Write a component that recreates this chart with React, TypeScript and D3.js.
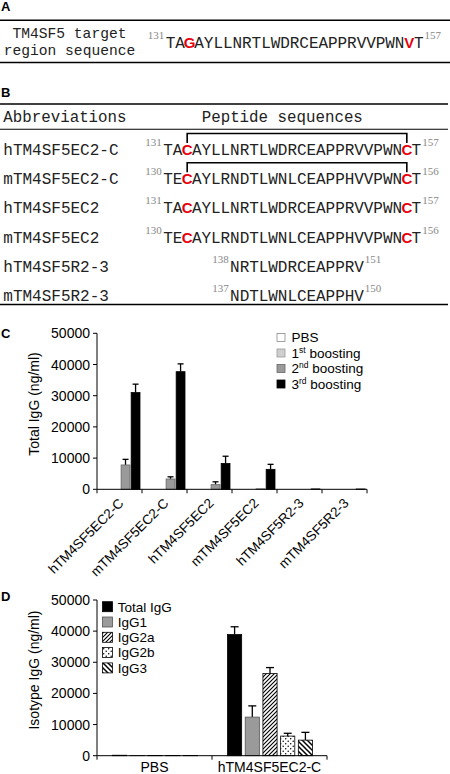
import React from 'react';
import * as d3 from 'd3';

// ---------- Panel A data ----------
const seqA = "TAGAYLLNRTLWDRCEAPPRVVPWNVT";
const seqAStart = 131;
const seqAEnd = 157;
const seqARed = [2, 25];

// ---------- Panel B data ----------
const peptideNames = ["hTM4SF5EC2-C", "mTM4SF5EC2-C", "hTM4SF5EC2", "mTM4SF5EC2", "hTM4SF5R2-3", "mTM4SF5R2-3"];
const peptideSeqs = [
  "TACAYLLNRTLWDRCEAPPRVVPWNCT",
  "TECAYLRNDTLWNLCEAPPHVVPWNCT",
  "TACAYLLNRTLWDRCEAPPRVVPWNCT",
  "TECAYLRNDTLWNLCEAPPHVVPWNCT",
  "NRTLWDRCEAPPRV",
  "NDTLWNLCEAPPHV",
];
const peptideStart = [131, 130, 131, 130, 138, 137];
const peptideEnd = [157, 156, 157, 156, 151, 150];
const peptideCol = [0, 0, 0, 0, 7, 7];
const peptideRed = [[2, 25], [2, 25], [2, 25], [2, 25], [], []];
const peptideBracket = [true, true, false, false, false, false];

// ---------- Panel C data ----------
const boostCategories = ["hTM4SF5EC2-C", "mTM4SF5EC2-C", "hTM4SF5EC2", "mTM4SF5EC2", "hTM4SF5R2-3", "mTM4SF5R2-3"];
const boostSeries = ["PBS", "1st boosting", "2nd boosting", "3rd boosting"];
const boostPBS = [0, 0, 0, 0, 0, 0];
const boost1st = [0, 0, 0, 0, 0, 0];
const boost2nd = [7800, 3300, 1500, 150, 0, 0];
const boost3rd = [31000, 37700, 8300, 6400, 120, 100];
const err2nd = [1800, 700, 900, 0, 0, 0];
const err3rd = [2700, 2500, 2300, 1600, 0, 0];
const boostLegendNum = ["PBS", "1", "2", "3"];
const boostLegendSup = ["", "st", "nd", "rd"];

// ---------- Panel D data ----------
const isoGroups = ["PBS", "hTM4SF5EC2-C"];
const isoSeries = ["Total IgG", "IgG1", "IgG2a", "IgG2b", "IgG3"];
const isoPBS = [150, 100, 100, 100, 100];
const isoHTM = [38900, 12400, 26400, 6300, 5000];
const isoErrPBS = [0, 0, 0, 0, 0];
const isoErrHTM = [2500, 3600, 1900, 900, 2500];

const yTicks = [0, 10000, 20000, 30000, 40000, 50000];

const mono = "'Liberation Mono', 'Courier New', monospace";
const sans = "'Liberation Sans', Arial, sans-serif";
const serif = "'Liberation Serif', 'Times New Roman', serif";
const red = "#e8000b";
const charW = 9.55;

function Seq({ seq, x0, baseline, redIdx, startNum, endNum }) {
  return (
    <g>
      <text x={x0 - 1.5} y={baseline - 9} textAnchor="end" fontFamily={serif} fontSize={11} fill="#888">{startNum}</text>
      {seq.split('').map((ch, i) =>
        redIdx.includes(i) ? (
          <text key={i} x={x0 + (i + 0.5) * charW} y={baseline} textAnchor="middle" fontFamily={sans} fontWeight="bold" fontSize={15} fill={red}>{ch}</text>
        ) : (
          <text key={i} x={x0 + (i + 0.5) * charW} y={baseline} textAnchor="middle" fontFamily={mono} fontSize={16} fill="#222">{ch}</text>
        )
      )}
      <text x={x0 + seq.length * charW + 1} y={baseline - 9} fontFamily={serif} fontSize={11} fill="#888">{endNum}</text>
    </g>
  );
}

function YAxis({ y, x, title, titleY }) {
  return (
    <g>
      <line x1={x} x2={x} y1={y.range()[0]} y2={y.range()[1]} stroke="#000" strokeWidth={1} />
      {yTicks.map(t => (
        <g key={t}>
          <line x1={x - 4} x2={x} y1={y(t)} y2={y(t)} stroke="#000" />
          <text x={x - 7} y={y(t)} dy="0.36em" textAnchor="end" fontFamily={sans} fontSize={14} fill="#000">{t}</text>
        </g>
      ))}
      <text transform={`translate(39,${titleY}) rotate(-90)`} textAnchor="middle" fontFamily={sans} fontSize={14} fill="#000">{title}</text>
    </g>
  );
}

export default function App() {
  // Panel C scales
  const yC = d3.scaleLinear().domain([0, 50000]).range([489.3, 333.3]);
  const x0C = d3.scaleBand().domain(boostCategories).range([97, 367]);
  const x1C = d3.scaleBand().domain(boostSeries).range([4, 43]).paddingInner(0.12);
  const boostValues = [boostPBS, boost1st, boost2nd, boost3rd];
  const boostErr = [boostPBS.map(() => 0), boost1st.map(() => 0), err2nd, err3rd];
  const boostFill = ["#ffffff", "#cfcfcf", "#9a9a9a", "#000000"];
  const boostStroke = ["#8a8a8a", "#9a9a9a", "#666666", "#000000"];
  const boundsC = [...boostCategories.map(c => x0C(c)), x0C.range()[1]];

  // Panel D scales
  const yD = d3.scaleLinear().domain([0, 50000]).range([755.7, 600]);
  const x0D = d3.scaleBand().domain(isoGroups).range([97, 327]);
  const x1D = d3.scaleBand().domain(isoSeries).range([15.5, 100.5]).paddingInner(0.2);
  const isoValues = [isoPBS, isoHTM];
  const isoErr = [isoErrPBS, isoErrHTM];
  const isoFill = ["#000000", "#9a9a9a", "url(#pUp)", "url(#pDots)", "url(#pDown)"];
  const isoStroke = ["#000000", "#555555", "#000000", "#000000", "#000000"];
  const boundsD = [...isoGroups.map(g => x0D(g)), x0D.range()[1]];

  const rowBase = (i) => 155 + i * 29.2;
  const seqX0 = 163.3;

  return (
    <svg width={450} height={774} style={{ position: 'absolute', left: 0, top: 0, background: '#fff' }}>
      <defs>
        <pattern id="pUp" patternUnits="userSpaceOnUse" width={4} height={4}>
          <rect width={4} height={4} fill="#fff" />
          <path d="M-1,1 l2,-2 M0,4 l4,-4 M3,5 l2,-2" stroke="#000" strokeWidth={1.1} />
        </pattern>
        <pattern id="pDots" patternUnits="userSpaceOnUse" width={5} height={5}>
          <rect width={5} height={5} fill="#fff" />
          <circle cx={1.2} cy={1.2} r={0.75} fill="#000" />
          <circle cx={3.7} cy={3.7} r={0.75} fill="#000" />
        </pattern>
        <pattern id="pDown" patternUnits="userSpaceOnUse" width={5} height={5}>
          <rect width={5} height={5} fill="#fff" />
          <path d="M-1,4 l2,2 M0,0 l5,5 M4,-1 l2,2" stroke="#000" strokeWidth={1.5} />
        </pattern>
      </defs>

      {/* ---------- Panel A ---------- */}
      <text x={1} y={10.5} fontFamily={sans} fontWeight="bold" fontSize={13} fill="#000">A</text>
      <line x1={0} x2={450} y1={20.3} y2={20.3} stroke="#000" strokeWidth={1.6} />
      <text x={69.5} y={37.5} textAnchor="middle" fontFamily={mono} fontSize={14.6} fill="#222">TM4SF5 target</text>
      <text x={69.5} y={55} textAnchor="middle" fontFamily={mono} fontSize={14.6} fill="#222">region sequence</text>
      <Seq seq={seqA} x0={165.7} baseline={48} redIdx={seqARed} startNum={seqAStart} endNum={seqAEnd} />
      <line x1={0} x2={450} y1={62.5} y2={62.5} stroke="#000" strokeWidth={1.6} />

      {/* ---------- Panel B ---------- */}
      <text x={1} y={96.7} fontFamily={sans} fontWeight="bold" fontSize={13} fill="#000">B</text>
      <line x1={0} x2={448} y1={104} y2={104} stroke="#000" strokeWidth={1.6} />
      <text x={3.3} y={121.7} fontFamily={mono} fontSize={15.8} fill="#222">Abbreviations</text>
      <text x={201.7} y={121.7} fontFamily={mono} fontSize={15.8} fill="#222">Peptide sequences</text>
      <line x1={0} x2={448} y1={129.2} y2={129.2} stroke="#000" strokeWidth={1.1} />
      {peptideNames.map((name, i) => {
        const b = rowBase(i);
        const x0 = seqX0 + peptideCol[i] * charW;
        const r = peptideRed[i];
        return (
          <g key={name + i}>
            <text x={3.3} y={b} fontFamily={mono} fontSize={16} fill="#222">{name}</text>
            <Seq seq={peptideSeqs[i]} x0={x0} baseline={b} redIdx={r} startNum={peptideStart[i]} endNum={peptideEnd[i]} />
            {peptideBracket[i] && (
              <path
                d={`M${x0 + (r[0] + 0.5) * charW},${b - 12} V${b - 21.5} H${x0 + (r[1] + 0.5) * charW} V${b - 12}`}
                fill="none" stroke="#000" strokeWidth={1.6}
              />
            )}
          </g>
        );
      })}
      <line x1={0} x2={448} y1={304.5} y2={304.5} stroke="#000" strokeWidth={1.6} />

      {/* ---------- Panel C ---------- */}
      <text x={1} y={337.5} fontFamily={sans} fontWeight="bold" fontSize={13} fill="#000">C</text>
      <YAxis y={yC} x={97} title="Total IgG (ng/ml)" titleY={404} />
      {boostCategories.map((cat, ci) => (
        <g key={cat} transform={`translate(${x0C(cat)},0)`}>
          {boostSeries.map((s, si) => {
            const v = boostValues[si][ci];
            const e = boostErr[si][ci];
            const bx = x1C(s);
            const bw = x1C.bandwidth();
            return (
              <g key={s}>
                {e > 0 && (
                  <g stroke="#000" strokeWidth={1.3}>
                    <line x1={bx + bw / 2} x2={bx + bw / 2} y1={yC(v)} y2={yC(v + e)} />
                    <line x1={bx + bw / 2 - 3} x2={bx + bw / 2 + 3} y1={yC(v + e)} y2={yC(v + e)} />
                  </g>
                )}
                {v > 0 && (
                  <rect x={bx} y={yC(v)} width={bw} height={yC(0) - yC(v)} fill={boostFill[si]} stroke={boostStroke[si]} strokeWidth={0.8} />
                )}
              </g>
            );
          })}
        </g>
      ))}
      <line x1={97} x2={x0C.range()[1]} y1={yC(0)} y2={yC(0)} stroke="#000" />
      {boundsC.map((bx, i) => (
        <line key={i} x1={bx} x2={bx} y1={yC(0)} y2={yC(0) + 4} stroke="#000" />
      ))}
      {boostCategories.map(cat => (
        <text key={cat} transform={`translate(${x0C(cat) + x0C.bandwidth() / 2 + 5},504) rotate(-45)`} textAnchor="end" fontFamily={sans} fontSize={13.5} fill="#000">{cat}</text>
      ))}
      {boostSeries.map((s, i) => {
        const cy = 337.5 + i * 15.5;
        return (
          <g key={s}>
            <rect x={277} y={cy - 4} width={8} height={8} fill={boostFill[i]} stroke={boostStroke[i]} strokeWidth={0.8} />
            <text x={291.5} y={cy} dy="0.36em" fontFamily={sans} fontSize={13.5} fill="#000">
              {boostLegendNum[i]}
              {boostLegendSup[i] && <tspan fontSize={8.5} dy="-5">{boostLegendSup[i]}</tspan>}
              {boostLegendSup[i] && <tspan dy="5"> boosting</tspan>}
            </text>
          </g>
        );
      })}

      {/* ---------- Panel D ---------- */}
      <text x={1} y={600.5} fontFamily={sans} fontWeight="bold" fontSize={13} fill="#000">D</text>
      <YAxis y={yD} x={97} title="Isotype IgG (ng/ml)" titleY={670} />
      {isoGroups.map((g, gi) => (
        <g key={g} transform={`translate(${x0D(g)},0)`}>
          {isoSeries.map((s, si) => {
            const v = isoValues[gi][si];
            const e = isoErr[gi][si];
            const bx = x1D(s);
            const bw = x1D.bandwidth();
            return (
              <g key={s}>
                {e > 0 && (
                  <g stroke="#000" strokeWidth={1.3}>
                    <line x1={bx + bw / 2} x2={bx + bw / 2} y1={yD(v)} y2={yD(v + e)} />
                    <line x1={bx + bw / 2 - 4} x2={bx + bw / 2 + 4} y1={yD(v + e)} y2={yD(v + e)} />
                  </g>
                )}
                <rect x={bx} y={yD(v)} width={bw} height={yD(0) - yD(v)} fill={isoFill[si]} stroke={isoStroke[si]} strokeWidth={0.8} />
              </g>
            );
          })}
        </g>
      ))}
      <line x1={97} x2={x0D.range()[1]} y1={yD(0)} y2={yD(0)} stroke="#000" />
      {boundsD.map((bx, i) => (
        <line key={i} x1={bx} x2={bx} y1={yD(0)} y2={yD(0) + 4} stroke="#000" />
      ))}
      {isoGroups.map(g => (
        <text key={g} x={x0D(g) + x0D.bandwidth() / 2} y={772} textAnchor="middle" fontFamily={sans} fontSize={14} fill="#000">{g}</text>
      ))}
      {isoSeries.map((s, i) => {
        const cy = 606.7 + i * 15.3;
        return (
          <g key={s}>
            <rect x={102.5} y={cy - 5} width={10} height={10} fill={isoFill[i]} stroke={isoStroke[i]} strokeWidth={0.8} />
            <text x={117.7} y={cy} dy="0.36em" fontFamily={sans} fontSize={13.5} fill="#000">{s}</text>
          </g>
        );
      })}
    </svg>
  );
}
